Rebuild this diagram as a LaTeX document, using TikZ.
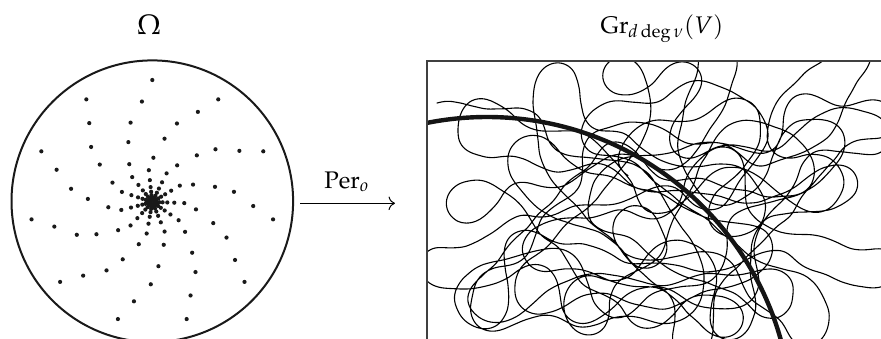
\documentclass[tikz,border=0pt]{standalone}
\usepackage{mathpazo}
\usetikzlibrary{arrows.meta}
\newcount\turtlestep
\newcount\wi
\newif\ifturtleout
% waypoints that the wandering curve visits in turn
\def\setwaypoint{%
  \ifcase\wi
     \def\wx{520}\def\wy{110}\or \def\wx{700}\def\wy{250}\or
     \def\wx{480}\def\wy{300}\or \def\wx{620}\def\wy{100}\or
     \def\wx{840}\def\wy{180}\or \def\wx{560}\def\wy{210}\or
     \def\wx{760}\def\wy{320}\or \def\wx{470}\def\wy{170}\or
     \def\wx{800}\def\wy{100}\or \def\wx{650}\def\wy{320}\or
     \def\wx{540}\def\wy{270}\or \def\wx{850}\def\wy{290}\or
     \def\wx{720}\def\wy{150}\or \def\wx{480}\def\wy{100}\or
     \def\wx{600}\def\wy{170}\or \def\wx{780}\def\wy{230}\or
     \def\wx{520}\def\wy{320}\or \def\wx{690}\def\wy{90}\or
     \def\wx{860}\def\wy{120}\or \def\wx{620}\def\wy{280}\or
     \def\wx{470}\def\wy{230}\or \def\wx{760}\def\wy{170}\or
     \def\wx{580}\def\wy{120}\or \def\wx{820}\def\wy{320}\or
     \def\wx{680}\def\wy{210}\or \def\wx{500}\def\wy{180}\or
     \def\wx{840}\def\wy{230}\or \def\wx{560}\def\wy{310}\or
     \def\wx{740}\def\wy{100}\or \def\wx{640}\def\wy{160}\or
     \def\wx{470}\def\wy{290}\or \def\wx{800}\def\wy{270}\or
     \def\wx{600}\def\wy{240}\or \def\wx{860}\def\wy{90}\or
     \def\wx{700}\def\wy{310}\or \def\wx{520}\def\wy{140}\or
     \def\wx{760}\def\wy{210}\or \def\wx{660}\def\wy{120}\or
     \def\wx{850}\def\wy{320}\or \def\wx{580}\def\wy{200}\else
     \wi=0 \def\wx{520}\def\wy{110}%
  \fi}
\begin{document}
\begin{tikzpicture}[x=0.5pt,y=-0.5pt,
  labeltext/.style={font=\fontsize{12}{14}\selectfont, anchor=base, inner sep=0pt},
  dotfill/.style={fill=black!90},
  discedge/.style={line width=1pt, draw=black!90},
  framelines/.style={line width=0.9pt, draw=black!75},
  mapsto/.style={line width=0.5pt, -{To[scale=1.2]}},
  bigarc/.style={line width=2.2pt, draw=black!92}]
\useasboundingbox (0,0) rectangle (881,338);
\clip (0,0) rectangle (881,338);

% the disc and its discrete orbit of points
\draw[discedge] (152.3,201.2) circle (140.8);
\foreach \r/\o in {122/0, 101/5.9, 82.3/15.3, 64.5/21.8, 44.3/-1.4, 32/6.2,
                   22/6.4, 15/6.5, 10.3/6.5, 7/6.5, 4.8/6.5, 3.3/6.5, 2.3/6.5}{
  \foreach \j in {0,...,10}{
    \fill[dotfill] ({152.3+\r*cos(90+\o+\j*360/11)},{202-\r*sin(90+\o+\j*360/11)}) circle (2.1);
  }
}

% labels and the period map
\node[labeltext, font=\fontsize{14}{16}\selectfont] (omega) at (149,34) {$\Omega$};
\node[labeltext] (grass) at (662,33) {$\mathrm{Gr}_{d\deg\nu}(V)$};
\coordinate (perstart) at (300,203.3);
\coordinate (perend) at (395,203.3);
\draw[mapsto] (perstart) -- (perend);
\node[labeltext] (perlabel) at (347,188) {$\mathrm{Per}_o$};

% frame of the Grassmannian
\draw[framelines] (427,345) -- (427,61) -- (895,61);

% a long wandering curve inside the frame
\begin{scope}
\clip (428,62) rectangle (881,338);
\pgfsetlinewidth{0.55pt}
\pgfsetroundjoin
\pgfsetroundcap
\pgfmathsetseed{2718}
\def\px{437}\def\py{103}\def\th{-15}\def\om{0}
\wi=0 \setwaypoint
\turtlestep=0
\pgfpathmoveto{\pgfpointxy{\px}{\py}}
\loop
  \turtleoutfalse
  \ifdim\px pt<450pt \turtleouttrue\fi
  \ifdim\px pt>866pt \turtleouttrue\fi
  \ifdim\py pt<80pt \turtleouttrue\fi
  \ifdim\py pt>326pt \turtleouttrue\fi
  \ifturtleout
    \pgfmathsetmacro\tz{cos(\th)*(200-(\py))-sin(\th)*(655-(\px))}
    \pgfmathsetmacro\om{0.85*(\om)+1.2*sign(\tz)}
  \else
    \pgfmathsetmacro\tz{cos(\th)*(\wy-(\py))-sin(\th)*(\wx-(\px))}
    \pgfmathsetmacro\om{max(-8,min(8,0.92*(\om)+0.45*sign(\tz)+2.0*rand))}
  \fi
  \pgfmathsetmacro\th{mod(\th+(\om),360)}
  \pgfmathsetmacro\px{\px+2.5*cos(\th)}
  \pgfmathsetmacro\py{\py+2.5*sin(\th)}
  \pgfpathlineto{\pgfpointxy{\px}{\py}}
  \pgfmathsetmacro\dd{veclen(\wx-(\px),\wy-(\py))}
  \ifdim\dd pt<26pt \advance\wi by 1 \setwaypoint\fi
  \advance\turtlestep by 1
\ifnum\turtlestep<5200 \repeat
\pgfusepath{stroke}
\end{scope}

% the thick arc crossing the frame
\begin{scope}
\clip (428,62) rectangle (881,338);
\draw[bigarc] (487,422) circle (305);
\end{scope}
\end{tikzpicture}
\end{document}
